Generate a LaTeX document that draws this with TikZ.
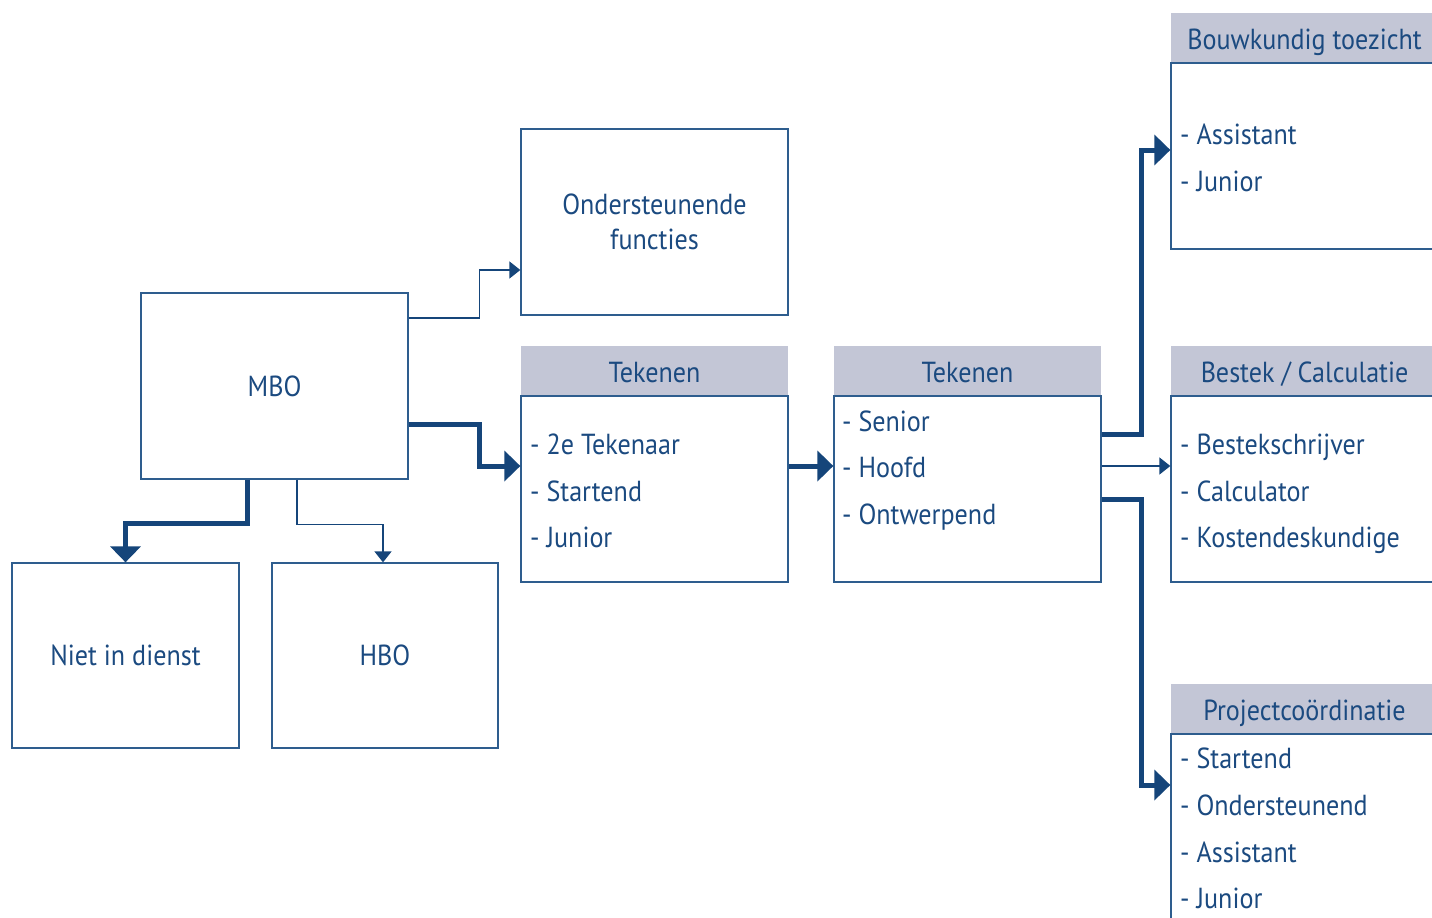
\documentclass[tikz,border=0pt]{standalone}
\usepackage{fontspec}
\setmainfont{PT Sans}[FakeStretch=0.9]
\usetikzlibrary{arrows.meta,calc}
\definecolor{txt}{HTML}{1B4A80}
\definecolor{ln}{HTML}{15457A}
\definecolor{bd}{HTML}{2E5D8E}
\definecolor{hd}{HTML}{C3C6D6}
\begin{document}
\begin{tikzpicture}[x=1pt,y=-1pt,
  every node/.style={text=txt,font=\fontsize{29}{35}\selectfont},
  box/.style={draw=bd,line width=1.3pt,minimum width=267pt,minimum height=186pt,inner sep=0pt,align=center},
  hdr/.style={fill=hd,minimum width=267pt,minimum height=50pt,inner sep=0pt,text height=22pt,text depth=0pt},
  item/.style={anchor=base west,inner sep=0pt},
  thick/.style={draw=ln,line width=5pt,-{Triangle[length=16pt,width=30pt]}},
  thin/.style={draw=ln,line width=1.6pt,-{Triangle[length=11pt,width=17pt]}}]
\useasboundingbox (0,0) rectangle (1432,918);
\clip (0,0) rectangle (1432,918);
% boxes
\node[box] (mbo) at (274.5,386) {MBO};
\node[box] (ond) at (654.5,222) {Ondersteunende\\functies};
\node[hdr] (tek1h) at (654.5,371) {Tekenen};
\node[box] (tek1) at (654.5,489) {};
\node[hdr] (tek2h) at (967.5,371) {Tekenen};
\node[box] (tek2) at (967.5,489) {};
\node[hdr] (bouwh) at (1304.5,38) {Bouwkundig toezicht};
\node[box] (bouw) at (1304.5,156) {};
\node[hdr] (besth) at (1304.5,371) {Bestek / Calculatie};
\node[box] (best) at (1304.5,489) {};
\node[hdr] (projh) at (1304.5,709) {Projectcoördinatie};
\node[box] (proj) at (1304.5,827) {};
\node[box,minimum width=227pt,minimum height=185pt] (niet) at (125.5,655.5) {Niet in dienst};
\node[box,minimum width=226pt,minimum height=185pt] (hbo) at (385,655.5) {HBO};
% items
\node[item] (t1a) at (530,454) {- 2e Tekenaar};
\node[item] (t1b) at (530,501) {- Startend};
\node[item] (t1c) at (530,547) {- Junior};
\node[item] (t2a) at (842,431) {- Senior};
\node[item] (t2b) at (842,477) {- Hoofd};
\node[item] (t2c) at (842,524) {- Ontwerpend};
\node[item] (b1) at (1180,144) {- Assistant};
\node[item] (b2) at (1180,191) {- Junior};
\node[item] (c1) at (1180,454) {- Bestekschrijver};
\node[item] (c2) at (1180,501) {- Calculator};
\node[item] (c3) at (1180,547) {- Kostendeskundige};
\node[item] (p1) at (1180,768) {- Startend};
\node[item] (p2) at (1180,815) {- Ondersteunend};
\node[item] (p3) at (1180,862) {- Assistant};
\node[item] (p4) at (1180,908) {- Junior};
% connectors
\draw[thin] ([yshift=68pt]mbo.east) -- ++(71,0) |- ([yshift=-48pt]ond.west);
\draw[thick] ([yshift=-38pt]mbo.east) -- ++(71,0) |- ([yshift=23pt]tek1.west);
\draw[thick] ([yshift=23pt]tek1.east) -- ([yshift=23pt]tek2.west);
\draw[thick] ([yshift=55pt]tek2.east) -- ++(40,0) |- ([yshift=6pt]bouw.west);
\draw[thin] ([yshift=23pt]tek2.east) -- ([yshift=23pt]best.west);
\draw[thick] ([yshift=-10pt]tek2.east) -- ++(40,0) |- ([yshift=42pt]proj.west);
\draw[thick] ([xshift=-27.5pt]mbo.south) -- ++(0,44) -| (niet.north);
\draw[thin] ([xshift=22.5pt]mbo.south) -- ++(0,45) -| ([xshift=-2pt]hbo.north);
\end{tikzpicture}
\end{document}
